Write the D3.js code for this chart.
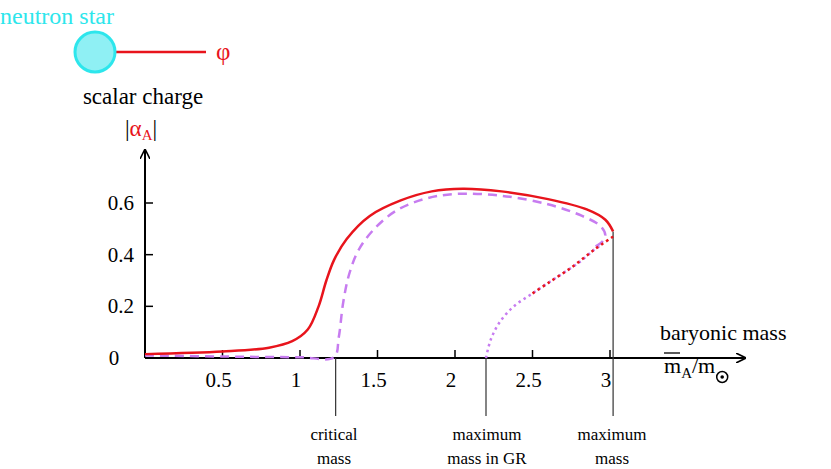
<!DOCTYPE html>
<html><head><meta charset="utf-8">
<script src="https://cdn.jsdelivr.net/npm/d3@7"></script>
<style>body{margin:0;background:#fff}</style>
</head><body>
<svg id="c" width="831" height="469" font-family="'Liberation Serif','Times New Roman','DejaVu Serif',serif"></svg>
<script>
// data
const redSolid = [[0,0.015],[0.5,0.025],[0.8,0.04],[0.95,0.065],[1.05,0.11],[1.12,0.2],[1.17,0.3],[1.22,0.38],[1.3,0.46],[1.45,0.55],[1.65,0.61],[1.85,0.645],[2.05,0.655],[2.3,0.645],[2.6,0.615],[2.85,0.575],[2.97,0.535],[3.02,0.49]];
const redDotted = [[3.02,0.47],[2.9,0.42],[2.75,0.35],[2.6,0.29],[2.5,0.25]];
const purpleDashed = [[0,0.01],[0.6,0.005],[1.0,0.003],[1.22,0.003],[1.25,0.08],[1.28,0.22],[1.32,0.33],[1.38,0.42],[1.48,0.5],[1.62,0.57],[1.8,0.615],[2.0,0.635],[2.3,0.628],[2.6,0.595],[2.82,0.55],[2.94,0.51],[2.97,0.475],[2.95,0.45],[2.9,0.43]];
const purpleDotted = [[2.2,0],[2.23,0.07],[2.29,0.14],[2.38,0.2],[2.5,0.25],[2.65,0.31],[2.8,0.37],[2.9,0.42],[2.95,0.44]];
const xTicks = [0.5,1,1.5,2,2.5,3];
const yTicks = [0.2,0.4,0.6];
const markers = [{x:1.23,top:0,lines:["critical","mass"],lx:334},{x:2.2,top:0,lines:["maximum","mass in GR"],lx:487},{x:3.02,top:0.49,lines:["maximum","mass"],lx:612}];

const svg = d3.select("#c");
const x = d3.scaleLinear().domain([0,3]).range([145,610]);
const y = d3.scaleLinear().domain([0,0.6]).range([358,203]);

svg.append("defs").append("marker").attr("id","ar").attr("viewBox","0 0 10 10").attr("refX",9).attr("refY",5)
  .attr("markerWidth",10).attr("markerHeight",10).attr("markerUnits","userSpaceOnUse").attr("orient","auto")
  .append("path").attr("d","M0,0L10,5L0,10").attr("fill","none").attr("stroke","#000").attr("stroke-width",1.6);

// axes
svg.append("line").attr("x1",145).attr("y1",358).attr("x2",745).attr("y2",358).attr("stroke","#000").attr("stroke-width",2).attr("marker-end","url(#ar)");
svg.append("line").attr("x1",145).attr("y1",358).attr("x2",145).attr("y2",150).attr("stroke","#000").attr("stroke-width",2).attr("marker-end","url(#ar)");
xTicks.forEach(t=>{
  svg.append("line").attr("x1",x(t)).attr("x2",x(t)).attr("y1",358).attr("y2",350).attr("stroke","#000").attr("stroke-width",1.5);
  svg.append("text").attr("x",x(t)-4).attr("y",387).attr("text-anchor","middle").attr("font-size",21).text(t);
});
yTicks.forEach(t=>{
  svg.append("line").attr("x1",145).attr("x2",153).attr("y1",y(t)).attr("y2",y(t)).attr("stroke","#000").attr("stroke-width",1.5);
  svg.append("text").attr("x",134).attr("y",y(t)+7).attr("text-anchor","end").attr("font-size",21).text(t);
});
svg.append("text").attr("x",114).attr("y",365).attr("text-anchor","middle").attr("font-size",21).text("0");

// marker lines
markers.forEach(m=>{
  svg.append("line").attr("x1",x(m.x)).attr("x2",x(m.x)).attr("y1",y(m.top)).attr("y2",416).attr("stroke","#333").attr("stroke-width",1.2);
  m.lines.forEach((s,i)=>svg.append("text").attr("x",m.lx).attr("y",440+i*24).attr("text-anchor","middle").attr("font-size",17).text(s));
});

const line = d3.line().x(d=>x(d[0])).y(d=>y(d[1])).curve(d3.curveCatmullRom.alpha(0.5));
svg.append("path").attr("d",line(purpleDashed)).attr("fill","none").attr("stroke","#c77cf0").attr("stroke-width",2.5).attr("stroke-dasharray","9,6");
svg.append("path").attr("d",line(purpleDotted)).attr("fill","none").attr("stroke","#c77cf0").attr("stroke-width",2.5).attr("stroke-dasharray","2.5,3.5");
svg.append("path").attr("d",line(redDotted)).attr("fill","none").attr("stroke","#e8141c").attr("stroke-width",2.5).attr("stroke-dasharray","2.5,3.5");
svg.append("path").attr("d",line(redSolid)).attr("fill","none").attr("stroke","#e8141c").attr("stroke-width",2.5);

// axis labels
svg.append("text").attr("x",660).attr("y",340).attr("font-size",22).text("baryonic mass");
const ml = svg.append("text").attr("x",664).attr("y",373).attr("font-size",22);
ml.append("tspan").text("m");
ml.append("tspan").attr("font-size",15).attr("dy",5).text("A");
ml.append("tspan").attr("dy",-5).text("/m");
const mW = ml.node().getComputedTextLength();
svg.append("line").attr("x1",664).attr("x2",680).attr("y1",353).attr("y2",353).attr("stroke","#000").attr("stroke-width",1.3);
const sx = 664 + mW + 7;
svg.append("circle").attr("cx",sx).attr("cy",377).attr("r",5.5).attr("fill","none").attr("stroke","#000").attr("stroke-width",1.5);
svg.append("circle").attr("cx",sx).attr("cy",377).attr("r",1.8).attr("fill","#000");

const al = svg.append("text").attr("x",125).attr("y",136).attr("font-size",23);
al.append("tspan").text("|");
al.append("tspan").attr("fill","#e8141c").text("α");
al.append("tspan").attr("fill","#e8141c").attr("font-size",15).attr("dy",4).text("A");
al.append("tspan").attr("dy",-4).text("|");
svg.append("text").attr("x",143).attr("y",104).attr("text-anchor","middle").attr("font-size",23).text("scalar charge");

// neutron star schematic
svg.append("text").attr("x",0).attr("y",24).attr("font-size",24).attr("fill","#2de6ec").text("neutron star");
svg.append("line").attr("x1",116).attr("x2",206).attr("y1",52).attr("y2",52).attr("stroke","#e8141c").attr("stroke-width",2.5);
svg.append("circle").attr("cx",95).attr("cy",52).attr("r",20).attr("fill","#8ff0f4").attr("stroke","#2de6ec").attr("stroke-width",3);
svg.append("text").attr("x",216).attr("y",60).attr("font-size",25).attr("fill","#e8141c").text("φ");
</script>
</body></html>
